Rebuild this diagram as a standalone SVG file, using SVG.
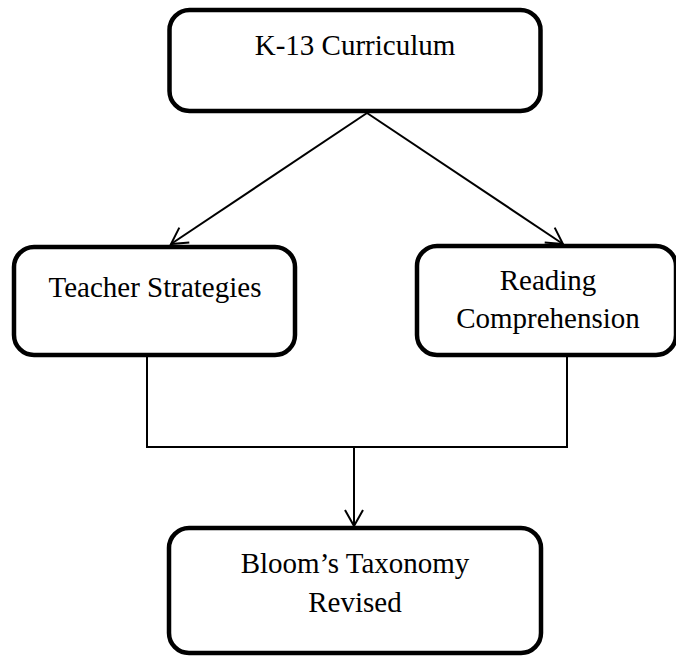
<svg xmlns="http://www.w3.org/2000/svg" width="676" height="656" viewBox="0 0 676 656">
<style>
.box{fill:#fff;stroke:#000;stroke-width:4.5}
.t{font-family:"Liberation Serif","Times New Roman",serif;font-size:29px;fill:#000;text-anchor:middle}
.c{fill:none;stroke:#000;stroke-width:2}
</style>
<defs>
<marker id="arr" viewBox="0 0 20 20" refX="18" refY="10" markerWidth="20" markerHeight="20" markerUnits="userSpaceOnUse" orient="auto">
<path d="M2,1 L18,10 L2,19" fill="none" stroke="#000" stroke-width="2"/>
</marker>
</defs>
<g id="connectors">
<line class="c" x1="367" y1="113" x2="171" y2="244" marker-end="url(#arr)"/>
<line class="c" x1="367" y1="113" x2="563" y2="244" marker-end="url(#arr)"/>
<polyline class="c" points="147,357 147,447 567,447 567,357"/>
<line class="c" x1="354" y1="447" x2="354" y2="526" marker-end="url(#arr)"/>
</g>
<g id="k13">
<rect class="box" x="169.5" y="10" width="371" height="101" rx="20"/>
<text class="t" x="355" y="55">K-13 Curriculum</text>
</g>
<g id="teacher">
<rect class="box" x="14" y="247" width="281" height="108" rx="20"/>
<text class="t" x="155" y="297">Teacher Strategies</text>
</g>
<g id="reading">
<rect class="box" x="417" y="246" width="259" height="109" rx="20"/>
<text class="t" x="548" y="290">Reading</text>
<text class="t" x="548" y="328">Comprehension</text>
</g>
<g id="bloom">
<rect class="box" x="169" y="528" width="372" height="125" rx="20"/>
<text class="t" x="355" y="573">Bloom’s Taxonomy</text>
<text class="t" x="355" y="612">Revised</text>
</g>
</svg>
